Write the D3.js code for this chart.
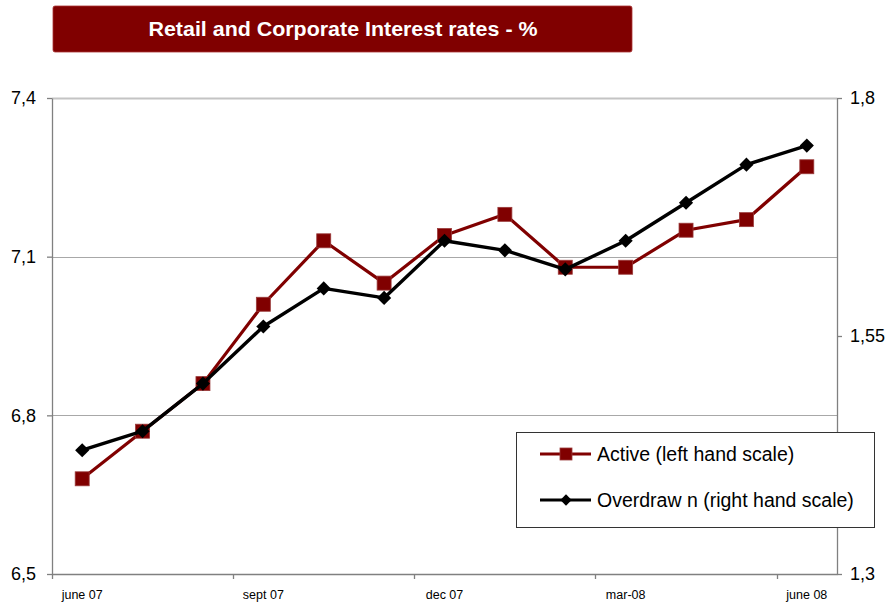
<!DOCTYPE html>
<html>
<head>
<meta charset="utf-8">
<script src="https://cdn.jsdelivr.net/npm/d3@7"></script>
<style>
  body { margin: 0; background: #fff; }
  svg { display: block; font-family: "Liberation Sans", Arial, sans-serif; }
</style>
</head>
<body>
<svg id="chart" width="892" height="603"></svg>
<script>
// Monthly categories, June 2007 to June 2008
const months = ["june 07", "july 07", "aug 07", "sept 07", "oct 07", "nov 07", "dec 07",
                "jan 08", "feb 08", "mar-08", "apr 08", "may 08", "june 08"];
// Only every third month carries a label
const labelledMonths = ["june 07", "sept 07", "dec 07", "mar-08", "june 08"];

// Rates, %
const activeRates    = [6.68, 6.77, 6.86, 7.01, 7.13, 7.05, 7.14, 7.18, 7.08, 7.08, 7.15, 7.17, 7.27];
const overdrawnRates = [1.43, 1.45, 1.50, 1.56, 1.60, 1.59, 1.65, 1.64, 1.62, 1.65, 1.69, 1.73, 1.75];

// Axis ticks
const leftTicks  = [6.5, 6.8, 7.1, 7.4];
const rightTicks = [1.3, 1.55, 1.8];

const titleText = "Retail and Corporate Interest rates - %";
const legendLabels = ["Active (left hand scale)", "Overdraw n (right hand scale)"];

const RED = "#800000";

const svg = d3.select("#chart");
const plot = { left: 52, right: 837, top: 98, bottom: 574 };

const locale = d3.formatLocale({ decimal: ",", thousands: ".", grouping: [3], currency: ["", ""] });
const fmt = locale.format(".2~f");

const x = d3.scaleBand().domain(months).range([plot.left, plot.right]);
const cx = m => x(m) + x.bandwidth() / 2;
const yL = d3.scaleLinear().domain([6.5, 7.4]).range([plot.bottom, plot.top]);
const yR = d3.scaleLinear().domain([1.3, 1.8]).range([plot.bottom, plot.top]);

// Title banner
svg.append("rect")
  .attr("x", 53).attr("y", 6).attr("width", 579).attr("height", 46)
  .attr("rx", 2).attr("fill", RED).attr("stroke", "#a33").attr("stroke-width", 0.8);
svg.append("text")
  .attr("x", 343).attr("y", 36)
  .attr("text-anchor", "middle")
  .attr("fill", "#fff")
  .attr("font-weight", "bold")
  .attr("font-size", 20)
  .attr("textLength", 389)
  .attr("lengthAdjust", "spacingAndGlyphs")
  .text(titleText);

// Horizontal gridlines
svg.append("g").selectAll("line")
  .data(leftTicks.filter(t => t !== 6.5))
  .join("line")
  .attr("x1", plot.left).attr("x2", plot.right)
  .attr("y1", d => Math.round(yL(d)) + 0.5).attr("y2", d => Math.round(yL(d)) + 0.5)
  .attr("stroke", d => d === 7.4 ? "#c4c4c4" : "#a8a8a8")
  .attr("stroke-width", d => d === 7.4 ? 2 : 1.2);

// Left axis
const gLeft = svg.append("g")
  .attr("transform", `translate(${plot.left},0)`)
  .call(d3.axisLeft(yL).tickValues(leftTicks).tickSize(5).tickSizeOuter(0).tickPadding(11).tickFormat(fmt));
// Right axis
const gRight = svg.append("g")
  .attr("transform", `translate(${plot.right},0)`)
  .call(d3.axisRight(yR).tickValues(rightTicks).tickSize(5).tickSizeOuter(0).tickPadding(8).tickFormat(fmt));

[gLeft, gRight].forEach(g => {
  g.select(".domain").attr("stroke", "#808080").attr("stroke-width", 1.3);
  g.selectAll(".tick line").attr("stroke", "#808080").attr("stroke-width", 1.3);
  g.selectAll(".tick text")
    .attr("font-size", 18)
    .attr("font-family", "'Liberation Sans', Arial, sans-serif")
    .attr("fill", "#000");
});

// Bottom axis: labels centred on every third month
const gBottom = svg.append("g")
  .attr("transform", `translate(0,${plot.bottom})`)
  .call(d3.axisBottom(x).tickValues(labelledMonths).tickSize(0).tickPadding(16));
gBottom.select(".domain").attr("stroke", "#808080").attr("stroke-width", 1.3);
gBottom.selectAll(".tick text")
  .attr("font-size", 12.5)
  .attr("font-family", "'Liberation Sans Narrow', 'Liberation Sans', Arial, sans-serif")
  .attr("fill", "#000");
// Tick marks at the left edge of every third month
gBottom.append("g").selectAll("line")
  .data(labelledMonths)
  .join("line")
  .attr("x1", d => Math.round(x(d)) + 0.5).attr("x2", d => Math.round(x(d)) + 0.5)
  .attr("y1", 0).attr("y2", 5)
  .attr("stroke", "#808080").attr("stroke-width", 1.3);

// Active series (left scale)
const lineActive = d3.line().x((d, i) => cx(months[i])).y(d => yL(d));
svg.append("path")
  .datum(activeRates)
  .attr("d", lineActive)
  .attr("fill", "none").attr("stroke", RED).attr("stroke-width", 3.2)
  .attr("stroke-linejoin", "round");
svg.append("g").selectAll("rect")
  .data(activeRates)
  .join("rect")
  .attr("x", (d, i) => cx(months[i]) - 7)
  .attr("y", d => yL(d) - 7)
  .attr("width", 14).attr("height", 14)
  .attr("fill", RED).attr("stroke", "#9a3a3a").attr("stroke-width", 0.8);

// Overdrawn series (right scale)
const lineOver = d3.line().x((d, i) => cx(months[i])).y(d => yR(d));
svg.append("path")
  .datum(overdrawnRates)
  .attr("d", lineOver)
  .attr("fill", "none").attr("stroke", "#000").attr("stroke-width", 3.4)
  .attr("stroke-linejoin", "round");
const diamond = d3.symbol(d3.symbolSquare, 100);
svg.append("g").selectAll("path")
  .data(overdrawnRates)
  .join("path")
  .attr("d", diamond)
  .attr("transform", (d, i) => `translate(${cx(months[i])},${yR(d)}) rotate(45)`)
  .attr("fill", "#000");

// Legend
const legend = svg.append("g");
legend.append("rect")
  .attr("x", 516.5).attr("y", 432.5).attr("width", 358).attr("height", 95)
  .attr("fill", "#fff").attr("stroke", "#333").attr("stroke-width", 1);
const rows = [
  { y: 454, color: RED, label: legendLabels[0], marker: "square" },
  { y: 500, color: "#000", label: legendLabels[1], marker: "diamond" }
];
rows.forEach(r => {
  legend.append("line")
    .attr("x1", 540).attr("x2", 591).attr("y1", r.y).attr("y2", r.y)
    .attr("stroke", r.color).attr("stroke-width", 3.2);
  if (r.marker === "square") {
    legend.append("rect")
      .attr("x", 560).attr("y", r.y - 6).attr("width", 12).attr("height", 12)
      .attr("fill", RED).attr("stroke", "#9a3a3a").attr("stroke-width", 0.8);
  } else {
    legend.append("path")
      .attr("d", d3.symbol(d3.symbolSquare, 64)())
      .attr("transform", `translate(566,${r.y}) rotate(45)`)
      .attr("fill", "#000");
  }
  legend.append("text")
    .attr("x", 597).attr("y", r.y + 7)
    .attr("font-size", 19.5)
    .attr("fill", "#000")
    .text(r.label);
});
</script>
</body>
</html>
